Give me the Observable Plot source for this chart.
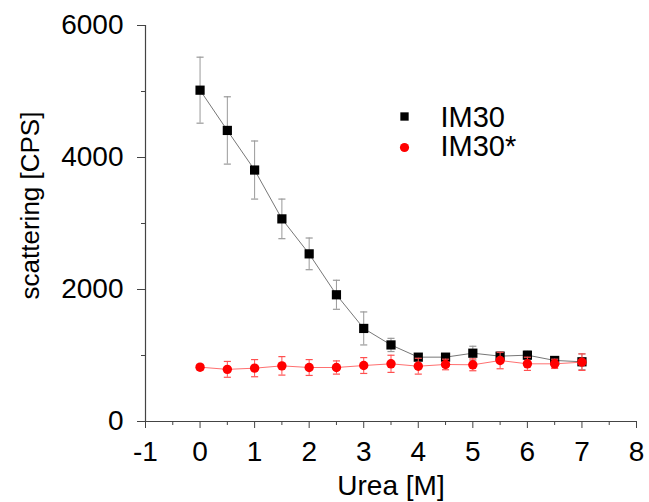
<!DOCTYPE html>
<html><head><meta charset="utf-8">
<script src="https://cdn.jsdelivr.net/npm/d3@7"></script>
<script src="https://cdn.jsdelivr.net/npm/@observablehq/plot@0.6"></script>
<style>body{margin:0;background:#fff}</style>
</head><body><div id="chart"></div>
<script>
const urea = [0, 0.5, 1, 1.5, 2, 2.5, 3, 3.5, 4, 4.5, 5, 5.5, 6, 6.5, 7];
const im30 = [5020, 4410, 3810, 3070, 2540, 1920, 1410, 1160, 975, 975, 1035, 990, 1005, 925, 905];
const im30Err = [500, 510, 440, 300, 240, 220, 250, 100, 50, 50, 105, 60, 60, 40, 120];
const im30s = [823, 790, 808, 843, 818, 818, 848, 874, 838, 864, 859, 924, 874, 874, 899];
const im30sErr = [40, 120, 130, 140, 120, 100, 120, 130, 120, 80, 90, 125, 100, 70, 125];
const seriesNames = ["IM30", "IM30*"];
const xTicks = [-1, 0, 1, 2, 3, 4, 5, 6, 7, 8];
const xMinorTicks = [-0.5, 0.5, 1.5, 2.5, 3.5, 4.5, 5.5, 6.5, 7.5];
const yTicks = [0, 2000, 4000, 6000];
const yMinorTicks = [1000, 3000, 5000];
const xTitle = "Urea [M]";
const yTitle = "scattering [CPS]";

const rowsA = urea.map((u, i) => ({x: u, y: im30[i], e: im30Err[i]}));
const rowsB = urea.map((u, i) => ({x: u, y: im30s[i], e: im30sErr[i]}));
const cap = {draw(ctx, size) { const w = Math.sqrt(size) / 2; ctx.moveTo(-w, 0); ctx.lineTo(w, 0); }};
const FONT = "'Liberation Sans', Arial, sans-serif";
const axisColor = "#444";

function series(rows, lineColor, errColor, markColor, symbol, r) {
  return [
    Plot.line(rows, {x: "x", y: "y", stroke: lineColor, strokeWidth: 1}),
    Plot.ruleX(rows, {x: "x", y1: d => d.y - d.e, y2: d => d.y + d.e, stroke: errColor, strokeWidth: 1}),
    Plot.dot(rows, {x: "x", y: d => d.y + d.e, symbol: cap, r: 4, stroke: errColor, strokeWidth: 1.2, fill: "none"}),
    Plot.dot(rows, {x: "x", y: d => d.y - d.e, symbol: cap, r: 4, stroke: errColor, strokeWidth: 1.2, fill: "none"}),
    Plot.dot(rows, {x: "x", y: "y", symbol, r, fill: markColor, stroke: "none"})
  ];
}

const chart = Plot.plot({
  width: 649, height: 502,
  marginLeft: 145, marginRight: 13, marginTop: 25, marginBottom: 81,
  style: {fontFamily: FONT, background: "#fff", color: "#000"},
  x: {domain: [-1, 8], label: null},
  y: {domain: [0, 6000], label: null},
  marks: [
    Plot.axisX({ticks: xMinorTicks, tickSize: 4, tickFormat: () => "", stroke: axisColor}),
    Plot.axisX({ticks: xTicks, tickSize: 7, tickPadding: 13, fontSize: 28, stroke: axisColor, tickFormat: d => String(d)}),
    Plot.axisY({ticks: yMinorTicks, tickSize: 4, tickFormat: () => "", stroke: axisColor}),
    Plot.axisY({ticks: yTicks, tickSize: 8, tickPadding: 14, fontSize: 28, stroke: axisColor, tickFormat: d => String(d)}),
    Plot.ruleY([0], {stroke: axisColor, strokeWidth: 1.2}),
    Plot.ruleX([-1], {stroke: axisColor, strokeWidth: 1.2}),
    Plot.text([xTitle], {frameAnchor: "bottom", dy: 65, fontSize: 28, lineAnchor: "middle"}),
    Plot.text([yTitle], {frameAnchor: "left", dx: -115, dy: -18, rotate: -90, fontSize: 26, lineAnchor: "middle", textAnchor: "middle"}),
    ...series(rowsA, "#777", "#999", "#000", "square", 5.2),
    ...series(rowsB, "#ff7070", "#ff5050", "#ff0000", "circle", 4.7),
    Plot.dot([seriesNames[0]], {frameAnchor: "top-left", dx: 259, dy: 91, symbol: "square", r: 4.7, fill: "#000"}),
    Plot.dot([seriesNames[1]], {frameAnchor: "top-left", dx: 259, dy: 122, symbol: "circle", r: 4.6, fill: "#ff0000"}),
    Plot.text([seriesNames[0]], {frameAnchor: "top-left", dx: 295, dy: 92, text: d => d, textAnchor: "start", lineAnchor: "middle", fontSize: 29}),
    Plot.text([seriesNames[1]], {frameAnchor: "top-left", dx: 295, dy: 121, text: d => d, textAnchor: "start", lineAnchor: "middle", fontSize: 29})
  ]
});
document.getElementById("chart").appendChild(chart);
</script>
</body></html>
